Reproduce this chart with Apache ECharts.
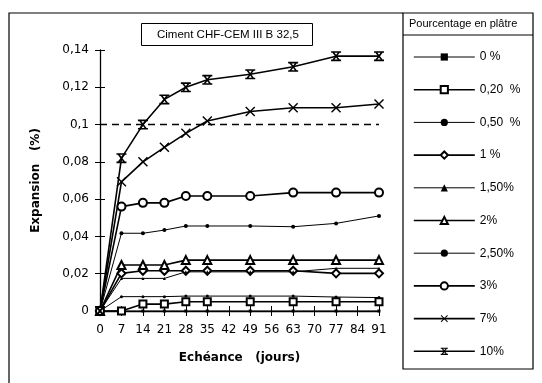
<!DOCTYPE html>
<html><head><meta charset="utf-8">
<script src="https://cdn.jsdelivr.net/npm/echarts@6/dist/echarts.min.js"></script>
<style>html,body{margin:0;padding:0;background:#fff}#c{width:542px;height:383px}</style>
</head><body><div id="c"></div>
<script>
const days = [0, 7, 14, 21, 28, 35, 49, 63, 77, 91];
const yTicks = ['0', '0,02', '0,04', '0,06', '0,08', '0,1', '0,12', '0,14'];
const seriesNames = ['0 %', '0,20  %', '0,50  %', '1 %', '1,50%', '2%', '2,50%', '3%', '7%', '10%'];
const s0   = [0, 0, 0, 0, 0, 0, 0, 0, 0, 0];
const s020 = [0, 0, 0.0037, 0.0037, 0.005, 0.005, 0.005, 0.005, 0.005, 0.005];
const s050 = [0, 0.0077, 0.0077, 0.0077, 0.008, 0.008, 0.008, 0.008, 0.0075, 0.0072];
const s1   = [0, 0.0202, 0.0216, 0.0216, 0.0216, 0.0216, 0.0216, 0.0216, 0.0202, 0.0202];
const s150 = [0, 0.0175, 0.0175, 0.0175, 0.021, 0.021, 0.021, 0.021, 0.0229, 0.0229];
const s2   = [0, 0.0247, 0.0247, 0.0247, 0.0273, 0.0273, 0.0273, 0.0273, 0.0273, 0.0273];
const s250 = [0, 0.0417, 0.0417, 0.0434, 0.0456, 0.0456, 0.0456, 0.0452, 0.047, 0.051];
const s3   = [0, 0.056, 0.058, 0.058, 0.0617, 0.0617, 0.0617, 0.0635, 0.0635, 0.0635];
const s7   = [0, 0.0693, 0.08, 0.0878, 0.0953, 0.1019, 0.107, 0.109, 0.109, 0.111];
const s10  = [0, 0.082, 0.1, 0.1135, 0.12, 0.124, 0.127, 0.131, 0.1367, 0.1367];
const refLine = 0.1;

const X_SYM = 'path://M0,1 L1,0 L5,4 L9,0 L10,1 L6,5 L10,9 L9,10 L5,6 L1,10 L0,9 L4,5 Z';
const XX_SYM = 'path://M0,0 L10,0 L10,1.6 L8.6,1.6 L6,5 L8.6,8.4 L10,8.4 L10,10 L0,10 L0,8.4 L1.4,8.4 L4,5 L1.4,1.6 L0,1.6 Z M3.4,1.6 L5,3.7 L6.6,1.6 Z M3.4,8.4 L6.6,8.4 L5,6.3 Z';

const FONT = 'DejaVu Sans';
const seriesData = [s0, s020, s050, s1, s150, s2, s250, s3, s7, s10];
const styles = [
  {symbol: 'rect', size: 3, w: 1},
  {symbol: 'emptyRect', size: 7, w: 1.6},
  {symbol: 'circle', size: 3, w: 1},
  {symbol: 'emptyDiamond', size: 8, w: 1.6},
  {symbol: 'triangle', size: 3, w: 1},
  {symbol: 'emptyTriangle', size: 8, w: 1.6},
  {symbol: 'circle', size: 4, w: 1},
  {symbol: 'emptyCircle', size: 8, w: 1.6},
  {symbol: X_SYM, size: 10, w: 1.6},
  {symbol: XX_SYM, size: 10, w: 1.6}
];

const series = seriesData.map((d, i) => ({
  name: seriesNames[i],
  type: 'line',
  data: days.map((x, j) => [x, d[j]]),
  symbol: styles[i].symbol,
  symbolSize: styles[i].size,
  showAllSymbol: true,
  lineStyle: {color: '#000', width: styles[i].w},
  itemStyle: {color: '#000', borderColor: '#000', borderWidth: styles[i].symbol.indexOf('empty') === 0 ? 1.5 : 0},
  animation: false,
  z: 3
}));
series[0].markLine = {
  silent: true, symbol: 'none', label: {show: false},
  lineStyle: {color: '#000', type: [7, 5], width: 1.3},
  data: [{yAxis: refLine}]
};

const legendData = seriesNames.map((n, i) => ({
  name: n,
  lineStyle: {width: styles[i].w > 1 ? 1.6 : 1, color: '#000'}
}));

const chart = echarts.init(document.getElementById('c'), null, {renderer: 'canvas'});
chart.setOption({
  animation: false,
  backgroundColor: '#fff',
  textStyle: {fontFamily: FONT},
  title: {
    text: 'Ciment CHF-CEM III B 32,5',
    left: 141, top: 23,
    padding: [6, 14, 5, 16],
    borderColor: '#000', borderWidth: 1,
    textStyle: {fontFamily: 'Liberation Sans', fontSize: 11.5, fontWeight: 'normal', color: '#000'}
  },
  grid: {left: 100, right: 163, top: 50, bottom: 72},
  xAxis: [{
    type: 'value', min: 0, max: 91, interval: 7,
    name: 'Echéance   (jours)', nameLocation: 'middle', nameGap: 41,
    nameTextStyle: {fontFamily: FONT, fontSize: 12, fontWeight: 'bold', color: '#000'},
    axisLine: {lineStyle: {color: '#000', width: 1.3}},
    axisTick: {show: true, length: 5, lineStyle: {color: '#000'}},
    axisLabel: {color: '#000', fontSize: 12, margin: 13, fontFamily: FONT},
    splitLine: {show: false}
  }, {
    type: 'value', min: 0, max: 91, interval: 7, position: 'bottom',
    axisLine: {show: false},
    axisTick: {show: true, inside: true, length: 5, lineStyle: {color: '#000'}},
    axisLabel: {show: false}, splitLine: {show: false}
  }],
  yAxis: [{
    type: 'value', min: 0, max: 0.14, interval: 0.02,
    name: 'Expansion   (%)', nameLocation: 'middle', nameGap: 58, nameRotate: 90,
    nameTextStyle: {fontFamily: FONT, fontSize: 12, fontWeight: 'bold', color: '#000'},
    axisLine: {show: true, lineStyle: {color: '#000', width: 1.3}},
    axisTick: {show: true, length: 5, lineStyle: {color: '#000'}},
    axisLabel: {color: '#000', fontSize: 12, margin: 11, fontFamily: FONT,
      formatter: (v, i) => yTicks[i]},
    splitLine: {show: false}
  }, {
    type: 'value', min: 0, max: 0.14, interval: 0.02, position: 'left',
    axisLine: {show: false},
    axisTick: {show: true, inside: true, length: 5, lineStyle: {color: '#000'}},
    axisLabel: {show: false}, splitLine: {show: false}
  }],
  legend: {
    orient: 'vertical', left: 413, top: 50, padding: 0,
    itemWidth: 61, itemHeight: 9, itemGap: 18.7,
    textStyle: {fontFamily: 'Liberation Sans', fontSize: 12, color: '#000', lineHeight: 14},
    data: legendData,
    selectedMode: false
  },
  graphic: [
    {type: 'polyline', shape: {points: [[9, 383], [9, 13], [403, 13]]}, style: {stroke: '#000', lineWidth: 1.2, fill: null}, silent: true},
    {type: 'rect', shape: {x: 403, y: 13, width: 130, height: 356}, style: {stroke: '#000', lineWidth: 1.2, fill: null}, silent: true},
    {type: 'line', shape: {x1: 403, y1: 35, x2: 533, y2: 35}, style: {stroke: '#000', lineWidth: 1.2}, silent: true},
    {type: 'text', left: 409, top: 18, style: {text: 'Pourcentage en plâtre', font: '11px "Liberation Sans"', fill: '#000'}, silent: true}
  ],
  series: series
});
</script></body></html>
